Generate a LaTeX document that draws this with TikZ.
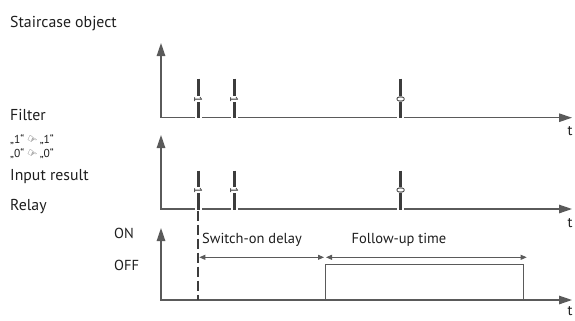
\documentclass[tikz,border=0pt]{standalone}
\usepackage{fontspec}
\setmainfont{PT Sans}
\newfontfamily\symfont{DejaVu Sans}
\usetikzlibrary{arrows.meta}
\definecolor{axisgray}{HTML}{5A5A5A}
\definecolor{bardark}{HTML}{3C3C3C}
\definecolor{txt}{HTML}{1E1E1E}
\tikzset{
  axes/.style={draw=axisgray, line width=1.3bp, {Triangle[length=13bp,width=8.5bp]}-{Triangle[length=13bp,width=8.5bp]}},
  pulsebar/.style={draw=bardark, line width=3bp},
  halo/.style={draw=white, line width=7bp},
  lbl/.style={font=\fontsize{14.5bp}{17bp}\selectfont, inner sep=0pt, anchor=base west, text=txt},
  biglbl/.style={lbl, font=\fontsize{15.8bp}{18bp}\selectfont},
  smalllbl/.style={font=\fontsize{11.5bp}{13bp}\selectfont, inner sep=0pt, anchor=base west, text=txt},
  digit/.style={font=\fontsize{11bp}{11bp}\selectfont, rotate=-90, inner sep=0.4bp, fill=white, text=txt},
  dimline/.style={draw=axisgray, line width=0.9bp, {Triangle[length=6bp,width=5bp]}-{Triangle[length=6bp,width=5bp]}},
  dashedline/.style={draw=bardark, line width=2bp, dash pattern=on 10bp off 4bp},
  relayline/.style={draw=axisgray, line width=1bp},
}
\newcommand{\filtersym}{{\symfont\rotatebox[origin=c]{-30}{\fontsize{11bp}{11bp}\selectfont ☞}}}
\begin{document}
\begin{tikzpicture}[x=1bp,y=-1bp]
\useasboundingbox (0,0) rectangle (575,320);
% ---------- texts on the left
\node[biglbl] (title) at (10,27) {Staircase object};
\node[biglbl] (filter) at (10,120.7) {Filter};
\node[smalllbl] (f1) at (10,143) {„1“\,\filtersym\,„1“};
\node[smalllbl] (f0) at (10,157) {„0“\,\filtersym\,„0“};
\node[biglbl] (input) at (10,180.7) {Input result};
\node[biglbl] (relay) at (10,210) {Relay};
\node[lbl] (on) at (114,238) {ON};
\node[lbl] (off) at (114,270.7) {OFF};
% ---------- chart 1
\coordinate (y1) at (161,43);
\coordinate (o1) at (161,117.7);
\coordinate (x1) at (572,117.7);
\draw[axes] (y1) -- (o1) -- (x1);
\node[lbl, anchor=center] (t1) at (570,131) {t};
\foreach \px/\d [count=\i] in {198.3/1,234.3/1,400.7/0}{
  \coordinate (a\i) at (\px,78.7);
  \coordinate (b\i) at (\px,118.3);
  \draw[halo] (a\i) -- (b\i);
  \draw[pulsebar] (a\i) -- (b\i);
  \node[digit] (da\i) at (\px,99) {\d};
}
% ---------- chart 2
\coordinate (y2) at (161,135);
\coordinate (o2) at (161,209);
\coordinate (x2) at (572,209);
\draw[axes] (y2) -- (o2) -- (x2);
\node[lbl, anchor=center] (t2) at (570,223) {t};
\foreach \px/\d [count=\i] in {198.3/1,234.3/1,400.7/0}{
  \coordinate (c\i) at (\px,170.5);
  \coordinate (e\i) at (\px,209.6);
  \draw[halo] (c\i) -- (e\i);
  \draw[pulsebar] (c\i) -- (e\i);
  \node[digit] (db\i) at (\px,190) {\d};
}
% ---------- chart 3
\coordinate (y3) at (161,228);
\coordinate (o3) at (161,300);
\coordinate (x3) at (572,300);
\draw[axes] (y3) -- (o3) -- (x3);
\node[lbl, anchor=center] (t3) at (570,311.5) {t};
\coordinate (ds) at (198.3,210.5);
\coordinate (de) at (198.3,300);
\draw[dashedline] (ds) -- (de);
\coordinate (r1) at (325,300);
\coordinate (r2) at (523.3,264.3);
\coordinate (r3) at (523.3,300);
\draw[relayline] (r1) |- (r2) -- (r3);
\coordinate (m1) at (199.3,257.3);
\coordinate (m2) at (324,257.3);
\coordinate (m3) at (326,257.3);
\coordinate (m4) at (526.7,257.3);
\draw[dimline] (m1) -- (m2);
\draw[dimline] (m3) -- (m4);
\node[lbl, anchor=center] (sod) at (252,240) {Switch-on delay};
\node[lbl, anchor=center] (fut) at (399,240) {Follow-up time};
\end{tikzpicture}
\end{document}
